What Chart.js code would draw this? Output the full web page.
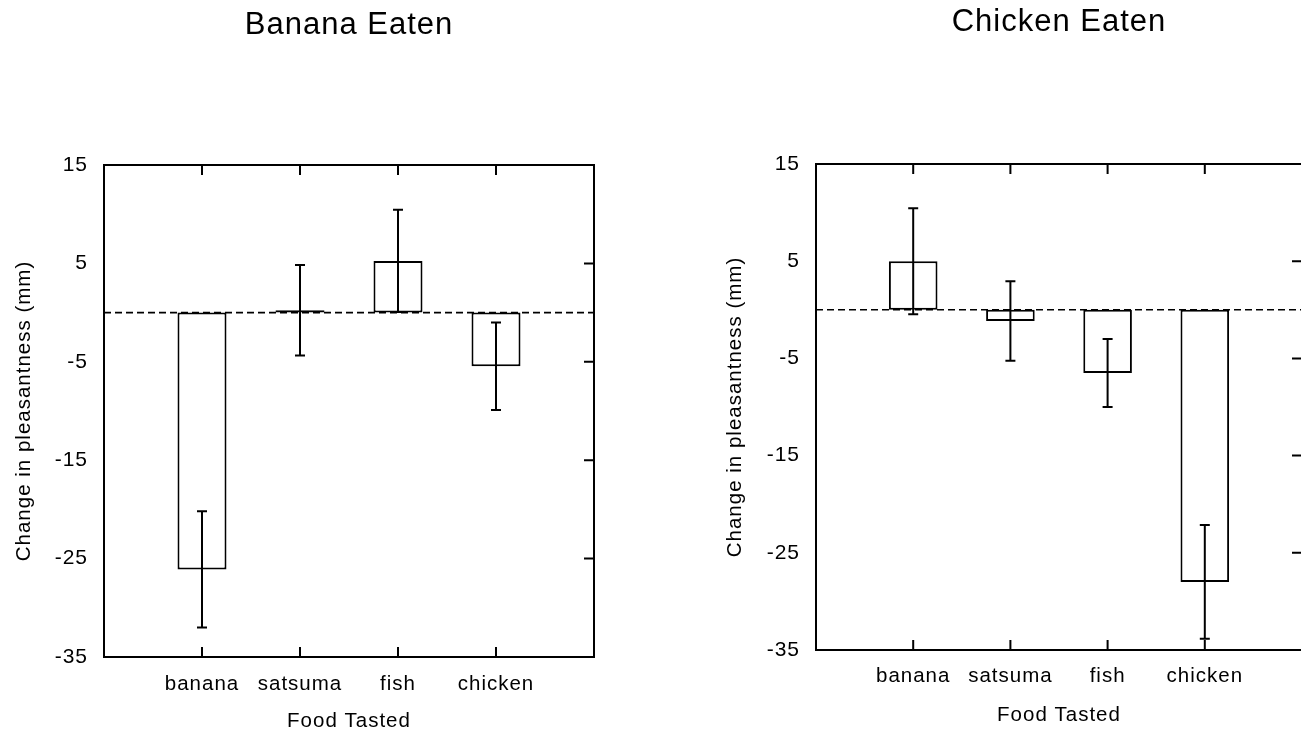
<!DOCTYPE html>
<html>
<head>
<meta charset="utf-8">
<title>Change in pleasantness</title>
<script src="https://cdn.jsdelivr.net/npm/chart.js@4.4.1/dist/chart.umd.min.js"></script>
<style>
  html, body { margin: 0; padding: 0; background: #fff; overflow: hidden; }
  body { width: 1301px; height: 732px; position: relative; }
  canvas { position: absolute; top: 0; }
  #bananaChart { left: 0; }
  #chickenChart { left: 712px; }
</style>
</head>
<body>
<canvas id="bananaChart" width="698" height="732"></canvas>
<canvas id="chickenChart" width="694" height="732"></canvas>
<script>
const categories = ['banana', 'satsuma', 'fish', 'chicken'];
const yTicks = [-35, -25, -15, -5, 5, 15];

// banana eaten: mean change and half length of the error bar
const bananaMeans = [-26.1, 0.25, 5.25, -5.45];
const bananaErrors = [5.9, 4.6, 5.2, 4.45];

// chicken eaten
const chickenMeans = [5.0, -1.15, -6.5, -28.0];
const chickenErrors = [5.45, 4.1, 3.5, 5.85];

const FONT = "'Liberation Sans', Arial, sans-serif";
Chart.defaults.font.family = FONT;
Chart.defaults.color = '#000';

// zero line, error bars, box frame and the inward tick marks
const paperPlugin = {
    id: 'paper',
    beforeLayout(chart) {
        chart.ctx.letterSpacing = '1px';
    },
    beforeDraw(chart) {
        chart.ctx.letterSpacing = '1px';
    },
    beforeDatasetsDraw(chart) {
        const { ctx, chartArea, scales } = chart;
        const y0 = scales.y.getPixelForValue(0);
        ctx.save();
        ctx.strokeStyle = '#000';
        ctx.lineWidth = 1.6;
        ctx.setLineDash([7, 4]);
        ctx.beginPath();
        ctx.moveTo(chartArea.left, y0);
        ctx.lineTo(chartArea.right, y0);
        ctx.stroke();
        ctx.restore();
    },
    afterDatasetsDraw(chart) {
        const { ctx, chartArea, scales } = chart;
        const ds = chart.data.datasets[0];
        const cap = 5;
        const tick = 10;
        ctx.save();
        ctx.strokeStyle = '#000';
        ctx.lineWidth = 2;

        ds.errors.forEach((err, i) => {
            const idx = i + 1; // first label is a blank spacer
            const x = scales.x.getPixelForValue(idx);
            const yTop = scales.y.getPixelForValue(ds.data[idx] + err);
            const yBot = scales.y.getPixelForValue(ds.data[idx] - err);
            ctx.beginPath();
            ctx.moveTo(x, yTop);
            ctx.lineTo(x, yBot);
            ctx.moveTo(x - cap, yTop);
            ctx.lineTo(x + cap, yTop);
            ctx.moveTo(x - cap, yBot);
            ctx.lineTo(x + cap, yBot);
            ctx.stroke();
        });

        ctx.strokeRect(chartArea.left, chartArea.top, chartArea.right - chartArea.left, chartArea.bottom - chartArea.top);

        ctx.beginPath();
        categories.forEach((c, i) => {
            const x = scales.x.getPixelForValue(i + 1);
            ctx.moveTo(x, chartArea.top);
            ctx.lineTo(x, chartArea.top + tick);
            ctx.moveTo(x, chartArea.bottom);
            ctx.lineTo(x, chartArea.bottom - tick);
        });
        yTicks.forEach(v => {
            const y = scales.y.getPixelForValue(v);
            ctx.moveTo(chartArea.right, y);
            ctx.lineTo(chartArea.right - tick, y);
        });
        ctx.stroke();
        ctx.restore();
    }
};

function buildChart(canvasId, title, means, errors, g) {
    return new Chart(document.getElementById(canvasId), {
        type: 'bar',
        data: {
            labels: ['', ...categories, ''],
            datasets: [{
                data: [null, ...means, null],
                errors: errors,
                backgroundColor: '#fff',
                borderColor: '#000',
                borderWidth: 2,
                borderSkipped: false,
                barPercentage: 0.5,
                categoryPercentage: 1
            }]
        },
        options: {
            responsive: false,
            animation: false,
            devicePixelRatio: 1,
            layout: { padding: 0 },
            plugins: {
                legend: { display: false },
                tooltip: { enabled: false },
                title: {
                    display: true,
                    text: title,
                    color: '#000',
                    font: { size: 31, weight: 'normal', lineHeight: 1.2 },
                    padding: { top: g.titleTop, bottom: g.titleBottom }
                }
            },
            scales: {
                x: {
                    offset: false,
                    grid: { display: false, drawTicks: false },
                    border: { display: false },
                    ticks: { font: { size: 20.5 }, padding: g.tickPad, maxRotation: 0, autoSkip: false },
                    title: {
                        display: true,
                        text: 'Food Tasted',
                        font: { size: 20.5, lineHeight: 1 },
                        padding: { top: 0, bottom: g.xTitlePad }
                    },
                    afterFit(s) { s.height = g.xHeight; }
                },
                y: {
                    min: yTicks[0],
                    max: yTicks[yTicks.length - 1],
                    grid: { display: false, drawTicks: false },
                    border: { display: false },
                    ticks: { stepSize: 10, font: { size: 21 }, padding: 16 },
                    title: {
                        display: true,
                        text: 'Change in pleasantness (mm)',
                        font: { size: 20.5, lineHeight: 1 },
                        padding: { top: g.yTitlePad, bottom: 0 }
                    },
                    afterFit(s) { s.width = 104; }
                },
                // empty right axis so the title centres over the box
                yRight: {
                    position: 'right',
                    min: yTicks[0],
                    max: yTicks[yTicks.length - 1],
                    grid: { display: false, drawTicks: false },
                    border: { display: false },
                    ticks: { display: false },
                    afterFit(s) { s.width = 104; }
                }
            }
        },
        plugins: [paperPlugin]
    });
}

buildChart('bananaChart', 'Banana Eaten', bananaMeans, bananaErrors, {
    titleTop: 6.4, titleBottom: 121.4, tickPad: 15, xTitlePad: 0, xHeight: 75, yTitlePad: 14
});
buildChart('chickenChart', 'Chicken Eaten', chickenMeans, chickenErrors, {
    titleTop: 3.9, titleBottom: 122.9, tickPad: 14, xTitlePad: 6, xHeight: 82, yTitlePad: 13
});
</script>
</body>
</html>
